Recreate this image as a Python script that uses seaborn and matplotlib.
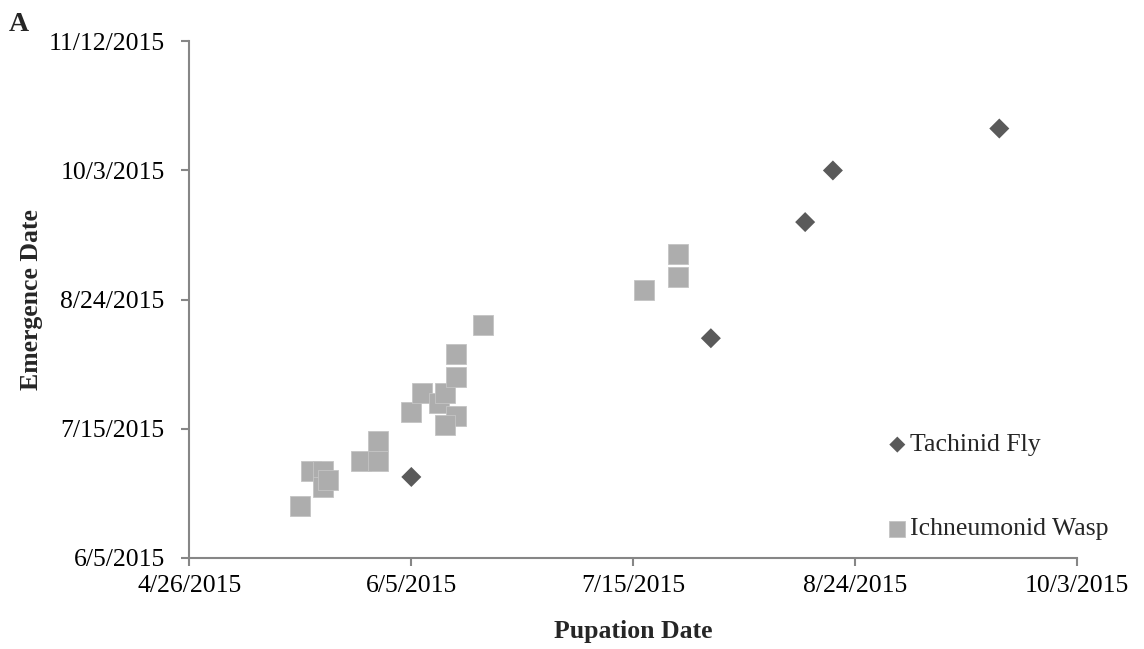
import pandas as pd
import seaborn as sns
import matplotlib.pyplot as plt
import matplotlib.dates as mdates
from matplotlib.ticker import FuncFormatter

# data (month/day, 2015)
fly_pupation = ["6/5", "7/29", "8/15", "8/20", "9/19"]
fly_emergence = ["6/30", "8/12", "9/17", "10/3", "10/16"]

wasp_pupation = [
    "5/16", "5/18", "5/20", "5/20", "5/21", "5/27", "5/30", "5/30",
    "6/5", "6/7", "6/10", "6/11", "6/13", "6/11", "6/13", "6/13",
    "6/18", "7/17", "7/23", "7/23",
]
wasp_emergence = [
    "6/21", "7/2", "7/2", "6/27", "6/29", "7/5", "7/5", "7/11",
    "7/20", "7/26", "7/23", "7/26", "7/19", "7/16", "7/31", "8/7",
    "8/16", "8/27", "8/31", "9/7",
]

x_ticks = ["4/26", "6/5", "7/15", "8/24", "10/3"]
y_ticks = ["6/5", "7/15", "8/24", "10/3", "11/12"]

groups = ["Tachinid Fly", "Ichneumonid Wasp"]
colors = {"Tachinid Fly": "#5a5a5a", "Ichneumonid Wasp": "#adadad"}


def to_date(s):
    return pd.to_datetime([f"{d}/2015" for d in s], format="%m/%d/%Y")


df = pd.concat(
    [
        pd.DataFrame({"pupation": to_date(fly_pupation),
                      "emergence": to_date(fly_emergence),
                      "group": groups[0]}),
        pd.DataFrame({"pupation": to_date(wasp_pupation),
                      "emergence": to_date(wasp_emergence),
                      "group": groups[1]}),
    ],
    ignore_index=True,
)

sns.set_style("white")
plt.rcParams["font.family"] = ["Liberation Serif", "DejaVu Serif"]
COLOR = "#868686"
FS = 18.5

fig = plt.figure(figsize=(11.44, 6.49), dpi=100)
ax = fig.add_axes([0.1656, 0.1408, 0.9414 - 0.1656, 0.9362 - 0.1408])

# wasps drawn first so the fly diamonds sit on top
sns.scatterplot(data=df[df.group == groups[1]], x="pupation", y="emergence",
                marker="s", s=207, color=colors[groups[1]], edgecolor="#c4c4c4",
                linewidth=0.6, ax=ax, label=groups[1], zorder=3)
sns.scatterplot(data=df[df.group == groups[0]], x="pupation", y="emergence",
                marker="D", s=104, color=colors[groups[0]], edgecolor="none",
                ax=ax, label=groups[0], zorder=4)

xt = to_date(x_ticks)
yt = to_date(y_ticks)
ax.set_xlim(mdates.date2num(xt[0]), mdates.date2num(xt[-1]))
ax.set_ylim(mdates.date2num(yt[0]), mdates.date2num(yt[-1]))
ax.set_xticks(mdates.date2num(xt))
ax.set_yticks(mdates.date2num(yt))

fmt = FuncFormatter(lambda v, _: (lambda d: f"{d.month}/{d.day}/{d.year}")(mdates.num2date(v)))
ax.xaxis.set_major_formatter(fmt)
ax.yaxis.set_major_formatter(fmt)

for side in ["top", "right"]:
    ax.spines[side].set_visible(False)
for side in ["left", "bottom"]:
    ax.spines[side].set_color(COLOR)
    ax.spines[side].set_linewidth(1.5)
ax.tick_params(axis="both", which="major", direction="out", length=5.8, width=1.5,
               color=COLOR, labelcolor="black", labelsize=FS,
               bottom=True, left=True)
ax.tick_params(axis="x", pad=7)
ax.tick_params(axis="y", pad=12)
ax.grid(False)

ax.set_xlabel("Pupation Date", fontsize=FS, fontweight="bold", labelpad=16)
ax.set_ylabel("Emergence Date", fontsize=FS, fontweight="bold", labelpad=4)

handles, labels = ax.get_legend_handles_labels()
order = [labels.index(g) for g in groups]
ax.legend([handles[i] for i in order], [labels[i] for i in order],
          loc="center left", bbox_to_anchor=(0.786, 0.137), frameon=False,
          fontsize=FS, handlelength=0.8, handletextpad=0.1, labelspacing=2.38,
          markerscale=0.8, borderpad=0, borderaxespad=0)

fig.text(0.008, 0.952, "A", fontsize=20, fontweight="bold")

fig.savefig("out.png", dpi=100)
